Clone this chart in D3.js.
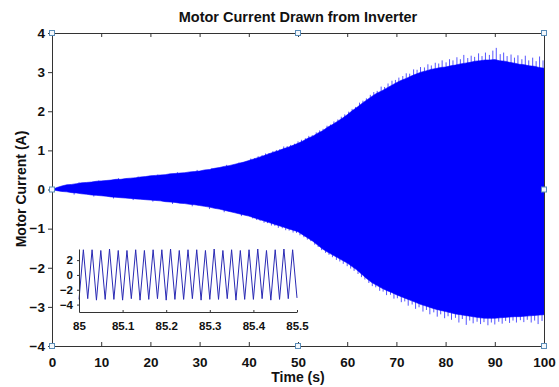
<!DOCTYPE html>
<html>
<head>
<meta charset="utf-8">
<script src="https://cdn.jsdelivr.net/npm/d3@7"></script>
<style>
  body { margin: 0; background: #fff; }
  text { font-family: "Liberation Sans", Arial, sans-serif; font-weight: bold; fill: #111; }
</style>
</head>
<body>
<div id="chart"></div>
<script>
/* motor current chart */

// DATA

// envelope of the current, read every 1 s (0..100 s)
var upperEnv = [
  0, 0.05, 0.09, 0.12, 0.13, 0.15, 0.17, 0.18, 0.19, 0.21,
  0.22, 0.23, 0.24, 0.26, 0.26, 0.28, 0.29, 0.30, 0.32, 0.33,
  0.35, 0.36, 0.37, 0.38, 0.40, 0.41, 0.42, 0.43, 0.45, 0.46,
  0.47, 0.50, 0.51, 0.54, 0.56, 0.59, 0.61, 0.64, 0.67, 0.70,
  0.74, 0.78, 0.82, 0.86, 0.91, 0.95, 0.99, 1.04, 1.08, 1.13,
  1.18, 1.24, 1.31, 1.36, 1.44, 1.50, 1.59, 1.66, 1.74, 1.82,
  1.91, 2.01, 2.10, 2.20, 2.29, 2.38, 2.46, 2.52, 2.59, 2.66,
  2.73, 2.79, 2.84, 2.90, 2.95, 3.00, 3.03, 3.07, 3.09, 3.12,
  3.13, 3.16, 3.18, 3.21, 3.23, 3.25, 3.28, 3.29, 3.31, 3.31,
  3.32, 3.29, 3.28, 3.25, 3.23, 3.20, 3.19, 3.16, 3.15, 3.12, 3.10
];
var lowerEnv = [
  0, -0.03, -0.05, -0.06, -0.08, -0.09, -0.11, -0.12, -0.14, -0.15,
  -0.16, -0.17, -0.19, -0.20, -0.21, -0.22, -0.23, -0.24, -0.25, -0.26,
  -0.27, -0.28, -0.29, -0.31, -0.32, -0.33, -0.35, -0.36, -0.38, -0.39,
  -0.41, -0.43, -0.45, -0.48, -0.50, -0.53, -0.56, -0.59, -0.62, -0.65,
  -0.68, -0.72, -0.76, -0.80, -0.84, -0.88, -0.92, -0.96, -1.00, -1.04,
  -1.08, -1.16, -1.24, -1.32, -1.42, -1.52, -1.60, -1.67, -1.74, -1.81,
  -1.88, -1.97, -2.06, -2.17, -2.28, -2.38, -2.45, -2.52, -2.58, -2.63,
  -2.69, -2.74, -2.79, -2.84, -2.89, -2.94, -2.98, -3.02, -3.06, -3.09,
  -3.12, -3.15, -3.18, -3.20, -3.22, -3.24, -3.26, -3.28, -3.29, -3.29,
  -3.29, -3.28, -3.27, -3.26, -3.25, -3.25, -3.24, -3.23, -3.22, -3.21, -3.20
];
var envTime = d3.range(0, 101);

// single peaks that stick out of the envelope
var spikeUpT = [
  5.5, 9.5, 13.5, 17.5, 21.5, 25.5, 29.5, 32.5, 35.5, 38.0,
  40.4, 41.2, 41.9, 42.7, 43.4, 44.1, 44.9, 45.6, 46.3, 47.1,
  47.8, 48.5, 49.3, 50.0, 50.7, 51.5, 52.2, 52.9, 53.7, 54.4,
  55.1, 55.9, 56.6, 57.3, 58.1, 58.8, 59.5, 60.3, 61.0, 61.7,
  62.5, 63.2, 63.9, 64.7, 65.4, 66.1, 66.9, 67.6, 68.3, 69.1,
  69.8, 70.5, 71.3, 72.0, 72.7, 73.5, 74.2, 74.9, 75.7, 76.4,
  77.1, 77.9, 78.6, 79.3, 80.1, 80.8, 81.5, 82.3, 83.0, 83.7,
  84.5, 85.2, 85.9, 86.7, 87.4, 88.1, 88.9, 89.6, 90.3, 91.1,
  91.8, 92.5, 93.3, 94.0, 94.7, 95.5, 96.2, 96.9, 97.7, 98.4,
  99.1, 99.8
];
var spikeUpV = [
  0.18, 0.23, 0.29, 0.33, 0.38, 0.44, 0.50, 0.55, 0.63, 0.69,
  0.79, 0.80, 0.85, 0.88, 0.92, 0.93, 0.98, 1.01, 1.03, 1.10,
  1.11, 1.14, 1.17, 1.23, 1.27, 1.31, 1.37, 1.39, 1.46, 1.51,
  1.55, 1.63, 1.66, 1.74, 1.79, 1.86, 1.92, 1.99, 2.06, 2.11,
  2.22, 2.27, 2.33, 2.42, 2.49, 2.52, 2.63, 2.62, 2.71, 2.78,
  2.80, 2.86, 2.90, 2.97, 2.96, 3.07, 3.06, 3.13, 3.12, 3.20,
  3.17, 3.24, 3.22, 3.30, 3.25, 3.33, 3.30, 3.38, 3.33, 3.44,
  3.36, 3.42, 3.39, 3.48, 3.41, 3.50, 3.44, 3.55, 3.62, 3.46,
  3.50, 3.41, 3.45, 3.37, 3.43, 3.33, 3.42, 3.30, 3.37, 3.28,
  3.40, 3.30
];
var spikeDnT = [
  4.5, 8.5, 12.5, 16.5, 20.5, 24.5, 28.5, 32.0, 35.0, 38.5,
  40.8, 41.6, 42.3, 43.1, 43.8, 44.6, 45.3, 46.0, 46.8, 47.5,
  48.2, 49.0, 49.7, 50.4, 51.2, 51.9, 52.6, 53.4, 54.1, 54.8,
  55.6, 56.3, 57.0, 57.8, 58.5, 59.2, 60.0, 60.7, 61.4, 62.2,
  62.9, 63.6, 64.4, 65.1, 65.8, 66.6, 67.3, 68.0, 68.8, 69.5,
  70.2, 71.0, 71.7, 72.4, 73.2, 73.9, 74.6, 75.4, 76.1, 76.8,
  77.6, 78.3, 79.0, 79.8, 80.5, 81.2, 82.0, 82.7, 83.4, 84.2,
  84.9, 85.6, 86.4, 87.1, 87.8, 88.6, 89.3, 90.0, 90.8, 91.5,
  92.2, 93.0, 93.7, 94.4, 95.2, 95.9, 96.6, 97.4, 98.1, 98.8,
  99.6
];
var spikeDnV = [
  -0.13, -0.18, -0.23, -0.27, -0.31, -0.37, -0.43, -0.50, -0.58, -0.68,
  -0.74, -0.78, -0.80, -0.85, -0.86, -0.92, -0.93, -0.98, -0.99, -1.04,
  -1.05, -1.10, -1.11, -1.17, -1.22, -1.28, -1.32, -1.41, -1.47, -1.55,
  -1.62, -1.67, -1.73, -1.80, -1.84, -1.90, -1.96, -2.02, -2.08, -2.16,
  -2.24, -2.30, -2.39, -2.47, -2.50, -2.59, -2.61, -2.70, -2.69, -2.79,
  -2.78, -2.88, -2.86, -2.97, -2.94, -3.05, -3.01, -3.12, -3.08, -3.19,
  -3.14, -3.25, -3.19, -3.29, -3.24, -3.33, -3.28, -3.40, -3.31, -3.46,
  -3.35, -3.42, -3.38, -3.44, -3.39, -3.47, -3.40, -3.45, -3.38, -3.43,
  -3.36, -3.41, -3.35, -3.40, -3.34, -3.39, -3.33, -3.40, -3.35, -3.44,
  -3.36
];

// zoomed window 85 .. 85.5 s (troughs and peaks every 10 ms)
var zoomTime = [
  85.00, 85.01, 85.02, 85.03, 85.04, 85.05, 85.06, 85.07, 85.08, 85.09,
  85.10, 85.11, 85.12, 85.13, 85.14, 85.15, 85.16, 85.17, 85.18, 85.19,
  85.20, 85.21, 85.22, 85.23, 85.24, 85.25, 85.26, 85.27, 85.28, 85.29,
  85.30, 85.31, 85.32, 85.33, 85.34, 85.35, 85.36, 85.37, 85.38, 85.39,
  85.40, 85.41, 85.42, 85.43, 85.44, 85.45, 85.46, 85.47, 85.48, 85.49, 85.50
];
var zoomCurrent = [
  -3.3, 3.4, -3.2, 3.4, -3.4, 3.3, -3.3, 3.5, -3.3, 3.3,
  -3.4, 3.3, -3.2, 3.4, -3.4, 3.3, -3.3, 3.4, -3.2, 3.4,
  -3.4, 3.5, -3.3, 3.3, -3.3, 3.4, -3.2, 3.4, -3.4, 3.3,
  -3.3, 3.5, -3.3, 3.3, -3.2, 3.4, -3.4, 3.3, -3.3, 3.4,
  -3.3, 3.5, -3.2, 3.3, -3.4, 3.4, -3.3, 3.5, -3.2, 3.4, -3.1
];

var xTicks = [0, 10, 20, 30, 40, 50, 60, 70, 80, 90, 100];
var yTicks = [-4, -3, -2, -1, 0, 1, 2, 3, 4];
var zoomXTicks = [85, 85.1, 85.2, 85.3, 85.4, 85.5];
var zoomYTicks = [-4, -2, 0, 2];

// SVG

var svg = d3.select("#chart").append("svg")
    .attr("width", 559)
    .attr("height", 387);

var x = d3.scaleLinear().domain([0, 100]).range([52, 544]);
var y = d3.scaleLinear().domain([-4, 4]).range([346, 33]);

var blue = "#0000ff";

// current envelope
var area = d3.area()
    .x(function(d, i) { return x(envTime[i]); })
    .y0(function(d, i) { return y(lowerEnv[i]); })
    .y1(function(d, i) { return y(upperEnv[i]); });

svg.append("path")
    .datum(envTime)
    .attr("fill", blue)
    .attr("stroke", blue)
    .attr("stroke-width", 0.6)
    .attr("d", area);

// spikes
svg.selectAll(".spike-up")
    .data(spikeUpT)
    .enter().append("line")
    .attr("class", "spike-up")
    .attr("x1", function(d) { return x(d); })
    .attr("x2", function(d) { return x(d); })
    .attr("y1", y(0))
    .attr("y2", function(d, i) { return y(spikeUpV[i]); })
    .attr("stroke", blue)
    .attr("stroke-opacity", 0.75)
    .attr("stroke-width", 0.9);

svg.selectAll(".spike-dn")
    .data(spikeDnT)
    .enter().append("line")
    .attr("class", "spike-dn")
    .attr("x1", function(d) { return x(d); })
    .attr("x2", function(d) { return x(d); })
    .attr("y1", y(0))
    .attr("y2", function(d, i) { return y(spikeDnV[i]); })
    .attr("stroke", blue)
    .attr("stroke-opacity", 0.75)
    .attr("stroke-width", 0.9);

// axes
var axisColor = "#333";

var bottomAxis = svg.append("g")
    .attr("transform", "translate(0,346)")
    .call(d3.axisBottom(x).tickValues(xTicks).tickSizeInner(-4).tickSizeOuter(0).tickPadding(11));

var topAxis = svg.append("g")
    .attr("transform", "translate(0,33)")
    .call(d3.axisTop(x).tickValues(xTicks).tickSizeInner(-4).tickSizeOuter(0).tickFormat(""));

var leftAxis = svg.append("g")
    .attr("transform", "translate(52,0)")
    .call(d3.axisLeft(y).tickValues(yTicks).tickSizeInner(4).tickSizeOuter(0).tickPadding(3));

var rightAxis = svg.append("g")
    .attr("transform", "translate(544,0)")
    .call(d3.axisRight(y).tickValues([]).tickSizeOuter(0));

svg.selectAll(".domain, .tick line").attr("stroke", axisColor);
svg.selectAll(".tick text")
    .attr("font-size", "13.5px")
    .attr("fill", "#111")
    .attr("font-family", "'Liberation Sans', Arial, sans-serif")
    .attr("font-weight", "bold");

// hide the 0 and 100 ticks on top so the box corners stay clean
topAxis.selectAll(".tick line").filter(function(d) { return d === 0 || d === 100; }).remove();

// selection handles
var handles = [[0, 4], [50, 4], [100, 4], [0, 0], [100, 0], [0, -4], [50, -4], [100, -4]];
svg.selectAll(".handle")
    .data(handles)
    .enter().append("rect")
    .attr("class", "handle")
    .attr("x", function(d) { return x(d[0]) - 2.5; })
    .attr("y", function(d) { return y(d[1]) - 2.5; })
    .attr("width", 5)
    .attr("height", 5)
    .attr("fill", "#f4f8fc")
    .attr("stroke", "#5b8db8")
    .attr("stroke-width", 1);

// title and axis labels
svg.append("text")
    .text("Motor Current Drawn from Inverter")
    .attr("x", 298)
    .attr("y", 22)
    .attr("font-size", "14.5px")
    .attr("text-anchor", "middle");

svg.append("text")
    .text("Time (s)")
    .attr("x", 298)
    .attr("y", 382)
    .attr("font-size", "14px")
    .attr("text-anchor", "middle");

svg.append("text")
    .text("Motor Current (A)")
    .attr("transform", "translate(26,189) rotate(-90)")
    .attr("font-size", "14px")
    .attr("text-anchor", "middle");

// INSET

var xi = d3.scaleLinear().domain([85, 85.5]).range([79, 297]);
var yi = d3.scaleLinear().domain([-5, 3.5]).range([312, 249]);

var inset = svg.append("g").attr("class", "inset");

var zoomLine = d3.line()
    .x(function(d, i) { return xi(zoomTime[i]); })
    .y(function(d) { return yi(d); });

inset.append("path")
    .datum(zoomCurrent)
    .attr("fill", "none")
    .attr("stroke", "#2a2ab4")
    .attr("stroke-width", 1)
    .attr("d", zoomLine);

var insetX = inset.append("g")
    .attr("transform", "translate(0,312)")
    .call(d3.axisBottom(xi).tickValues(zoomXTicks).tickFormat(d3.format("")).tickSizeInner(-2).tickSizeOuter(0).tickPadding(10));

var insetY = inset.append("g")
    .attr("transform", "translate(79,0)")
    .call(d3.axisLeft(yi).tickValues(zoomYTicks).tickSizeInner(2).tickSizeOuter(0).tickPadding(4));

inset.selectAll(".domain, .tick line").attr("stroke", axisColor);
inset.selectAll(".tick text")
    .attr("font-size", "11.5px")
    .attr("fill", "#111")
    .attr("font-family", "'Liberation Sans', Arial, sans-serif")
    .attr("font-weight", "bold");
</script>
</body>
</html>
